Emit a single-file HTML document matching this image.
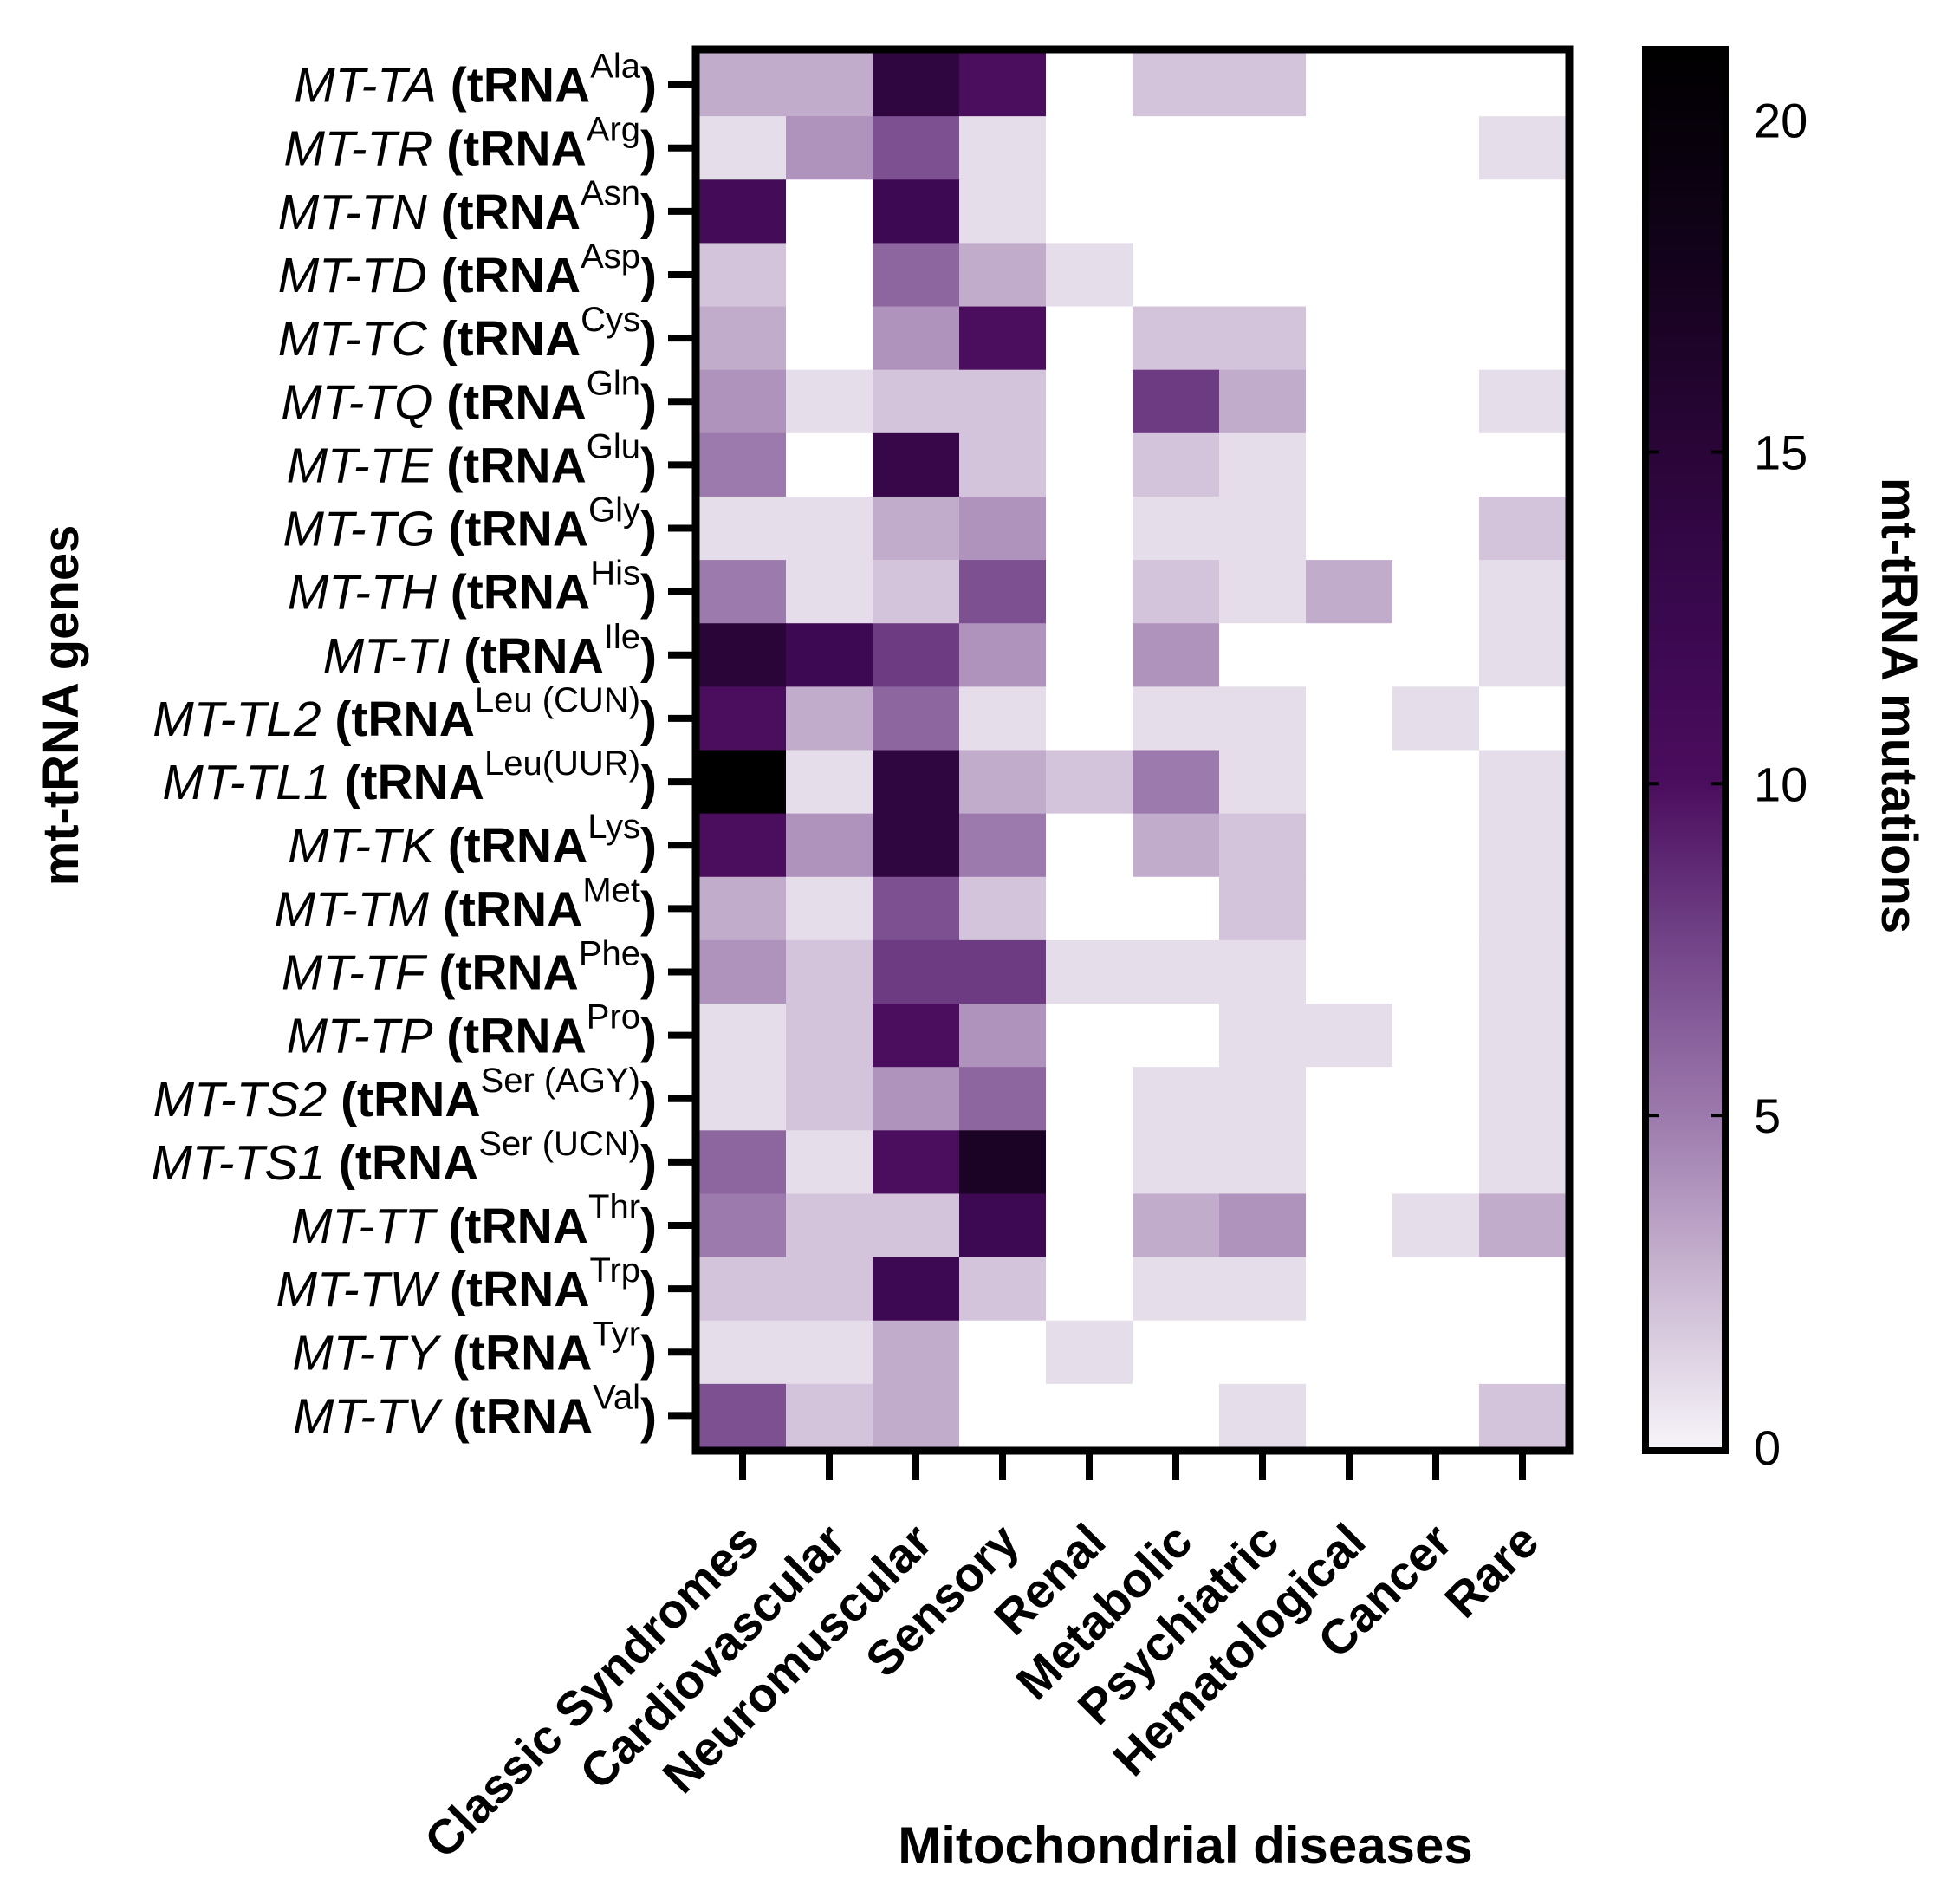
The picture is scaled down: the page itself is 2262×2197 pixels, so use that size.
<!DOCTYPE html>
<html><head><meta charset="utf-8"><style>
html,body{margin:0;padding:0;background:#fff;}
svg{display:block;font-family:"Liberation Sans",Arial,sans-serif;}
</style></head><body>
<svg id="chart" width="2262" height="2197" viewBox="0 0 2262 2197" xmlns="http://www.w3.org/2000/svg">
<defs>
<linearGradient id="cbgrad" x1="0" y1="1" x2="0" y2="0">
<stop offset="0" stop-color="#f7f5f9"/><stop offset="0.119" stop-color="#cbb8d3"/><stop offset="0.238" stop-color="#9d7aad"/><stop offset="0.357" stop-color="#74468a"/><stop offset="0.476" stop-color="#4b0d5e"/><stop offset="0.595" stop-color="#3a084f"/><stop offset="0.714" stop-color="#2a0538"/><stop offset="0.857" stop-color="#12021a"/><stop offset="1" stop-color="#000000"/>
</linearGradient>
</defs>
<g id="cells"></g>
<g id="ylabels"></g>
<g id="xlabels"></g>
<rect x="803" y="57" width="1008" height="1617" fill="none" stroke="#000" stroke-width="9"/>
<g id="colorbar"></g>
<text transform="translate(90,814) rotate(-90)" text-anchor="middle" font-size="58" font-weight="bold">mt-tRNA genes</text>
<text x="1368" y="2150" text-anchor="middle" font-size="60" font-weight="bold">Mitochondrial diseases</text>
<text transform="translate(2172,814) rotate(90)" text-anchor="middle" font-size="58" font-weight="bold">mt-tRNA mutations</text>
</svg>
<script>
const genes = ["MT-TA","MT-TR","MT-TN","MT-TD","MT-TC","MT-TQ","MT-TE","MT-TG","MT-TH","MT-TI","MT-TL2","MT-TL1","MT-TK","MT-TM","MT-TF","MT-TP","MT-TS2","MT-TS1","MT-TT","MT-TW","MT-TY","MT-TV"];
const aminoAcids = ["Ala","Arg","Asn","Asp","Cys","Gln","Glu","Gly","His","Ile","Leu (CUN)","Leu(UUR)","Lys","Met","Phe","Pro","Ser (AGY)","Ser (UCN)","Thr","Trp","Tyr","Val"];
const diseases = ["Classic Syndromes","Cardiovascular","Neuromuscular","Sensory","Renal","Metabolic","Psychiatric","Hematological","Cancer","Rare"];
const values = [
[3,3,14,10,0,2,2,0,0,0],
[1,4,7,1,0,0,0,0,0,1],
[11,0,12,1,0,0,0,0,0,0],
[2,0,6,3,1,0,0,0,0,0],
[3,0,4,10,0,2,2,0,0,0],
[4,1,2,2,0,8,3,0,0,1],
[5,0,13,2,0,2,1,0,0,0],
[1,1,3,4,0,1,1,0,0,2],
[5,1,2,7,0,2,1,3,0,1],
[15,12,8,4,0,4,0,0,0,1],
[10,3,6,1,0,1,1,0,1,0],
[21,1,14,3,2,5,1,0,0,1],
[10,4,14,5,0,3,2,0,0,1],
[3,1,7,2,0,0,2,0,0,1],
[4,2,8,8,1,1,1,0,0,1],
[1,2,10,4,0,0,1,1,0,1],
[1,2,4,6,0,1,1,0,0,1],
[6,1,10,17,0,1,1,0,0,1],
[5,2,2,12,0,3,4,0,1,3],
[2,2,12,2,0,1,1,0,0,0],
[1,1,3,0,1,0,0,0,0,0],
[7,2,3,0,0,0,1,0,0,2]
];
const cbTicks = [0,5,10,15,20];
const vmax = 21;

const NS = "http://www.w3.org/2000/svg";
const X0 = 807, X1 = 1807, Y0 = 61, Y1 = 1670;
const cw = (X1 - X0) / diseases.length, rh = (Y1 - Y0) / genes.length;
const xPos = i => X0 + i * cw;
const yPos = j => Y0 + j * rh;
const stops = [[0,[247,245,249]],[2.5,[203,184,211]],[5,[157,122,173]],[7.5,[116,70,138]],[10,[75,13,94]],[12.5,[58,8,79]],[15,[42,5,56]],[18,[18,2,26]],[21,[0,0,0]]];
function color(v){
  if (v <= 0) return "#ffffff";
  for (let k = 1; k < stops.length; k++) {
    if (v <= stops[k][0]) {
      const a = stops[k-1], b = stops[k], t = (v - a[0]) / (b[0] - a[0]);
      const c = a[1].map((x, i) => Math.round(x + (b[1][i] - x) * t));
      return "rgb(" + c.join(",") + ")";
    }
  }
  return "#000";
}
function mk(tag, attrs, parent){ const e = document.createElementNS(NS, tag); for (const k in attrs) e.setAttribute(k, attrs[k]); parent.appendChild(e); return e; }

const cells = document.getElementById("cells");
values.forEach((row, j) => row.forEach((v, i) => {
  const r = mk("rect", {x: xPos(i), y: yPos(j), width: cw + 0.5, height: rh + 0.5, fill: color(v)}, cells);
  
  
}));

const yl = document.getElementById("ylabels");
genes.forEach((g, j) => {
  const cy = yPos(j) + rh / 2;
  const tk = mk("line", {x1: 771, x2: 800, y1: cy, y2: cy, stroke: "#000", "stroke-width": 8}, yl);
  
  
  const t = mk("text", {x: 758, y: cy + 20, "text-anchor": "end", "font-size": 57}, yl);
  
  
  const a = mk("tspan", {"font-style": "italic"}, t); a.textContent = g;
  const b = mk("tspan", {"font-weight": "bold"}, t); b.textContent = " (tRNA";
  const c = mk("tspan", {"font-size": 40, dy: -28}, t); c.textContent = aminoAcids[j];
  const d = mk("tspan", {"font-weight": "bold", dy: 28}, t); d.textContent = ")";
});

const xl = document.getElementById("xlabels");
diseases.forEach((d, i) => {
  const cx = xPos(i) + cw / 2;
  const tk = mk("line", {x1: cx, x2: cx, y1: 1674, y2: 1708, stroke: "#000", "stroke-width": 8}, xl);
  
  
  const t = mk("text", {transform: "translate(" + (cx + 22) + ",1782) rotate(-45)", "text-anchor": "end", "font-size": 56, "font-weight": "bold"}, xl);
  
  
  t.textContent = d;
});

const cb = document.getElementById("colorbar");
const CB0 = 1670, CB1 = 62;
const cbY = v => CB0 - (CB0 - CB1) * v / vmax;
const bar = mk("rect", {x: 1899, y: 57, width: 92, height: 1617, fill: "url(#cbgrad)", stroke: "#000", "stroke-width": 8}, cb);


cbTicks.forEach(v => {
  const y = cbY(v);
  if (v > 0 && v < 20) {
    const l1 = mk("line", {x1: 1903, x2: 1915, y1: y, y2: y, stroke: "#000", "stroke-width": 4}, cb);
    
    
    const l2 = mk("line", {x1: 1975, x2: 1987, y1: y, y2: y, stroke: "#000", "stroke-width": 4}, cb);
    
    
  }
  const t = mk("text", {x: 2024, y: y + 20, "font-size": 56}, cb);
  
  
  t.textContent = v;
});
</script>
</body></html>
